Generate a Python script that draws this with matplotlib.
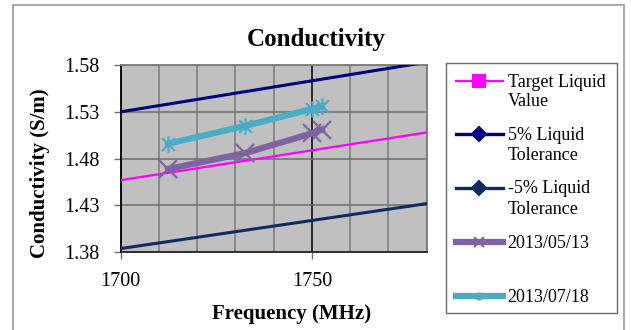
import matplotlib
matplotlib.use("Agg")
import matplotlib.pyplot as plt
from matplotlib.lines import Line2D
from matplotlib.patches import Rectangle
from matplotlib.path import Path
from matplotlib.ticker import MultipleLocator

plt.rcParams['font.family'] = ['Liberation Serif', 'DejaVu Serif']

# measured points (MHz, S/m)
freq = [1712.4, 1732.6, 1750.0, 1752.6]
cond_0513 = [1.469, 1.486, 1.507, 1.511]
cond_0718 = [1.496, 1.515, 1.533, 1.536]

# target value and +/-5% limits across the band
band = [1700, 1780]
target = [1.457, 1.508]
upper = [1.530, 1.583]
lower = [1.384, 1.432]

W, H = 631, 330
fig = plt.figure(figsize=(W / 100, H / 100), dpi=100)


def fx(px):
    return px / W


def fy(py):
    return 1 - py / H


# outer chart frame
fig.patches.append(Rectangle((fx(13), -0.05), fx(611), fy(5) + 0.05,
                             transform=fig.transFigure, fill=False,
                             edgecolor='#9a9a9a', lw=1.2))

ax = fig.add_axes([fx(120.7), fy(252.3), fx(306), (252.3 - 65) / H])
ax.set_facecolor('#c0c0c0')

star = Path([(-1, -1), (1, 1), (-1, 1), (1, -1), (0, -1.3), (0, 1.3)],
            [Path.MOVETO, Path.LINETO, Path.MOVETO, Path.LINETO,
             Path.MOVETO, Path.LINETO])

c_target = '#ff00ff'
c_up = '#000080'
c_low = '#0f2b63'
c_a = '#8064a2'
c_b = '#4bacc6'

ax.plot(band, target, color=c_target, lw=1.6, zorder=3)
ax.plot(band, upper, color=c_up, lw=2.2, zorder=3)
ax.plot(band, lower, color=c_low, lw=2.2, zorder=3)
ax.plot(freq, cond_0513, color=c_a, lw=4.5, marker='x', ms=13, mew=1.6,
        zorder=4)
ax.plot(freq, cond_0718, color=c_b, lw=4.5, marker=star, ms=12, mew=1.6,
        zorder=4)

ax.set_xlim(1700, 1780)
ax.set_ylim(1.38, 1.58)
ax.xaxis.set_major_locator(MultipleLocator(50))
ax.xaxis.set_minor_locator(MultipleLocator(10))
ax.set_yticks([1.38, 1.43, 1.48, 1.53, 1.58])
ax.set_yticklabels(['1.38', '1.43', '1.48', '1.53', '1.58'])

ax.grid(True, which='major', axis='x', color='black', lw=1.1, zorder=1)
ax.grid(True, which='minor', axis='x', color='#7a7a7a', lw=1.1, zorder=1)
ax.grid(True, which='major', axis='y', color='#6e6e6e', lw=1.1, zorder=1)
ax.set_axisbelow(True)

ax.tick_params(axis='both', which='major', labelsize=14.5, length=5,
               width=1, color='#707070', direction='out')
ax.tick_params(axis='y', pad=10)
ax.tick_params(axis='x', pad=9)
ax.tick_params(axis='x', which='minor', length=0)

ax.spines['left'].set_color('black')
ax.spines['bottom'].set_color('#222222')
ax.spines['top'].set_color('#7a7a7a')
ax.spines['right'].set_color('#7a7a7a')
for s in ax.spines.values():
    s.set_linewidth(1.3)

fig.text(fx(315.8), fy(45.7), 'Conductivity', ha='center', va='baseline',
         fontsize=18, fontweight='bold')
fig.text(fx(291.7), fy(319.5), 'Frequency (MHz)', ha='center',
         va='baseline', fontsize=15, fontweight='bold')
fig.text(fx(40), fy(173), 'Conductivity (S/m)', ha='center', va='center',
         rotation=90, fontsize=15, fontweight='bold')

# legend drawn by hand so each handle sits on the first text line
fig.patches.append(Rectangle((fx(445.7), fy(313.3)), fx(171.3), 250 / H,
                             transform=fig.transFigure, facecolor='white',
                             edgecolor='#6a6a6a', lw=1))

entries = [
    (80.7, c_target, 1.6, 's', 8, ['Target Liquid', 'Value'], [86.5, 106]),
    (134, c_up, 2.4, 'D', 7, ['5% Liquid', 'Tolerance'], [139.5, 160]),
    (188, c_low, 2.4, 'D', 7, ['-5% Liquid', 'Tolerance'], [193.5, 213.5]),
    (242.3, c_a, 4.5, 'x', 7, ['2013/05/13'], [247.5]),
    (296, c_b, 4.5, star, 6, ['2013/07/18'], [302]),
]
for y, col, lw, mk, ms, lines, bases in entries:
    fig.lines.append(Line2D([fx(456), fx(503.3)], [fy(y), fy(y)],
                            transform=fig.transFigure, color=col, lw=lw))
    fig.lines.append(Line2D([fx(479.3)], [fy(y)], transform=fig.transFigure,
                            color=col, marker=mk, ms=ms, mew=1.5,
                            markerfacecolor=col, markeredgecolor=col))
    for txt, b in zip(lines, bases):
        fig.text(fx(507.7), fy(b), txt, ha='left', va='baseline',
                 fontsize=13)

fig.savefig('out.png', dpi=100)
